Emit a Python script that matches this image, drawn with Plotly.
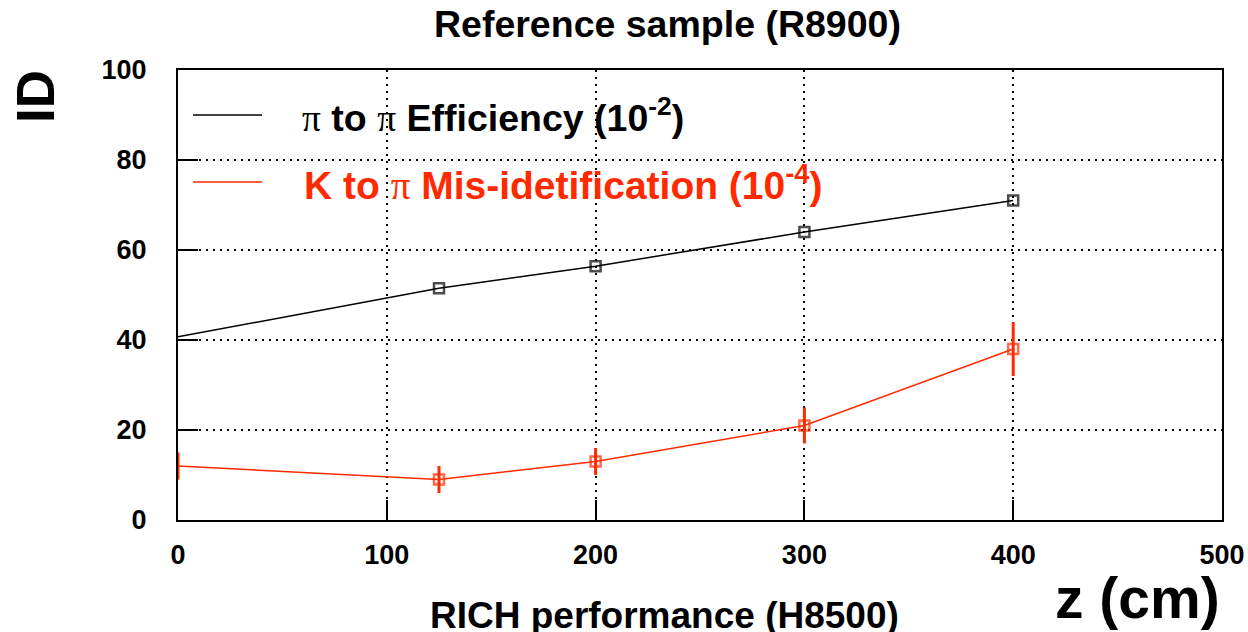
import plotly.graph_objects as go

# Measurements along z (cm)
z_eff = [0, 125, 200, 300, 400]
efficiency = [40.7, 51.5, 56.4, 64.0, 71.0]          # pi -> pi efficiency (x1e-2)

z_mis = [0, 125, 200, 300, 400]
misid = [12.0, 9.0, 13.0, 21.0, 38.0]                 # K -> pi mis-id (x1e-4)
misid_err = [3.0, 3.0, 3.0, 4.0, 6.0]

x_ticks = [0, 100, 200, 300, 400, 500]
y_ticks = [0, 20, 40, 60, 80, 100]

BLACK = "#000000"
RED = "#ff2a00"
FONT = "Liberation Sans"
SERIF = "Liberation Serif"

fig = go.Figure()

marker_sizes = [0, 10, 10, 10, 10]

fig.add_trace(go.Scatter(
    x=z_eff, y=efficiency, mode="lines+markers",
    line=dict(color=BLACK, width=1.5),
    marker=dict(symbol="square-open", size=marker_sizes, color=BLACK,
                line=dict(width=2.5, color=BLACK)),
    showlegend=False,
))

fig.add_trace(go.Scatter(
    x=z_mis, y=misid, mode="lines+markers",
    line=dict(color=RED, width=1.5),
    marker=dict(symbol="square-open", size=marker_sizes, color=RED,
                line=dict(width=2.5, color=RED)),
    error_y=dict(type="data", array=misid_err, visible=True,
                 color=RED, thickness=3, width=0),
    showlegend=False,
))

axis_common = dict(
    showline=True, linecolor=BLACK, linewidth=2, mirror=True,
    ticks="inside", ticklen=20, tickwidth=2, tickcolor=BLACK,
    showgrid=True, gridcolor=BLACK, gridwidth=1.5, griddash="2px,5px",
    zeroline=False,
    tickfont=dict(family=FONT, size=27, color=BLACK, weight="bold"),
)

fig.update_xaxes(range=[0, 500], tickvals=x_ticks, ticklabelstandoff=10,
                 automargin=False, **axis_common)
fig.update_yaxes(range=[0, 100], tickvals=y_ticks, ticklabelstandoff=24,
                 automargin=False, **axis_common)


def pi():
    return f'<span style="font-family:{SERIF};font-weight:normal">π</span>'


fig.update_layout(
    width=1248, height=632,
    margin=dict(l=178, r=26, t=70, b=112, autoexpand=False),
    paper_bgcolor="white", plot_bgcolor="white",
    font=dict(family=FONT, color=BLACK),
    showlegend=False,
)

ann_font = dict(family=FONT, color=BLACK, weight="bold")

# Titles
fig.add_annotation(text="Reference sample (R8900)", xref="paper", yref="paper",
                   x=(667 - 178) / 1044, y=(520 - 24) / 450,
                   xanchor="center", yanchor="middle", showarrow=False,
                   font=dict(ann_font, size=37.5))
fig.add_annotation(text="RICH performance (H8500)", xref="paper", yref="paper",
                   x=(664 - 178) / 1044, y=(520 - 615) / 450,
                   xanchor="center", yanchor="middle", showarrow=False,
                   font=dict(ann_font, size=37))
fig.add_annotation(text="ID", xref="paper", yref="paper", textangle=-90,
                   x=(35 - 178) / 1044, y=(520 - 97) / 450,
                   xanchor="center", yanchor="middle", showarrow=False,
                   font=dict(ann_font, size=53))
fig.add_annotation(text="z (cm)", xref="paper", yref="paper",
                   x=(1222 - 178) / 1044, y=(520 - 598) / 450,
                   xanchor="right", yanchor="middle", showarrow=False,
                   font=dict(ann_font, size=57))

# Legend block
fig.add_shape(type="line", xref="paper", yref="paper",
              x0=(193 - 178) / 1044, x1=(262 - 178) / 1044,
              y0=(520 - 115) / 450, y1=(520 - 115) / 450,
              line=dict(color=BLACK, width=1.5))
fig.add_shape(type="line", xref="paper", yref="paper",
              x0=(193 - 178) / 1044, x1=(262 - 178) / 1044,
              y0=(520 - 182) / 450, y1=(520 - 182) / 450,
              line=dict(color=RED, width=1.5))
fig.add_annotation(text=f"{pi()} to {pi()} Efficiency (10<sup>-2</sup>)",
                   xref="paper", yref="paper",
                   x=(300 - 178) / 1044, y=(520 - 115) / 450,
                   xanchor="left", yanchor="middle", showarrow=False,
                   font=dict(ann_font, size=37.5))
fig.add_annotation(text=f"K to {pi()} Mis-idetification (10<sup>-4</sup>)",
                   xref="paper", yref="paper",
                   x=(302 - 178) / 1044, y=(520 - 182) / 450,
                   xanchor="left", yanchor="middle", showarrow=False,
                   font=dict(family=FONT, color=RED, weight="bold", size=39))

fig.write_html("out.html")
